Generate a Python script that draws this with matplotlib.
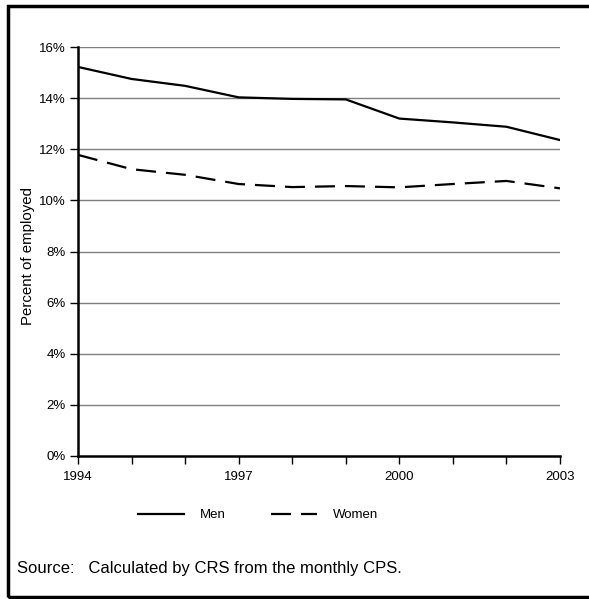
import matplotlib
matplotlib.use("Agg")
import matplotlib.pyplot as plt
from matplotlib.patches import Rectangle
from matplotlib.ticker import FixedLocator, FuncFormatter

plt.rcParams['font.family'] = ['Liberation Sans', 'DejaVu Sans']

years = [1994, 1995, 1996, 1997, 1998, 1999, 2000, 2001, 2002, 2003]
men = [15.22, 14.75, 14.48, 14.03, 13.97, 13.95, 13.20, 13.05, 12.88, 12.36]
women = [11.78, 11.22, 11.00, 10.64, 10.52, 10.56, 10.51, 10.64, 10.76, 10.47]
major_years = [1994, 1997, 2000, 2003]
y_ticks = [0, 2, 4, 6, 8, 10, 12, 14, 16]

W, H = 589, 599
fig = plt.figure(figsize=(W / 100, H / 100), dpi=100)
ax = fig.add_axes([78 / W, 1 - 456 / H, (560 - 78) / W, (456 - 47) / H])

for yv in y_ticks[1:]:
    ax.axhline(yv, color='#7f7f7f', lw=1.0, zorder=1)

ax.plot(years, men, color='black', lw=1.6, label='Men', zorder=3)
ax.plot(years, women, color='black', lw=1.6, dashes=(9, 4.5), label='Women', zorder=3)

ax.set_xlim(1994, 2003)
ax.set_ylim(0, 16)
ax.xaxis.set_major_locator(FixedLocator(major_years))
ax.xaxis.set_minor_locator(FixedLocator(years))
ax.yaxis.set_major_locator(FixedLocator(y_ticks))
ax.yaxis.set_major_formatter(FuncFormatter(lambda v, p: f"{int(v)}%"))

for s in ['top', 'right']:
    ax.spines[s].set_visible(False)
for s in ['left', 'bottom']:
    ax.spines[s].set_linewidth(1.8)
    ax.spines[s].set_zorder(4)

ax.tick_params(axis='x', which='both', direction='out', length=6, width=1, pad=5, labelsize=9.5)
ax.tick_params(axis='y', which='major', direction='out', length=6, width=1, pad=3, labelsize=9.5)
ax.set_ylabel('Percent of employed', fontsize=10.8)
ax.yaxis.set_label_coords(-0.089, 0.488)

fig.legend(loc='center', bbox_to_anchor=(258 / W, 1 - 515 / H), ncol=2, frameon=False,
           fontsize=9.5, handlelength=3.5, handletextpad=1.2, columnspacing=3.4)

fig.text(17 / W, 1 - 568 / H, 'Source:   Calculated by CRS from the monthly CPS.',
         fontsize=12, va='center', ha='left')

fig.patches.append(Rectangle((8 / W, 1 - 597 / H), (600 - 8) / W, (597 - 6) / H,
                             transform=fig.transFigure, fill=False, lw=2.5,
                             edgecolor='black', clip_on=False))

fig.savefig('out.png', dpi=100)
